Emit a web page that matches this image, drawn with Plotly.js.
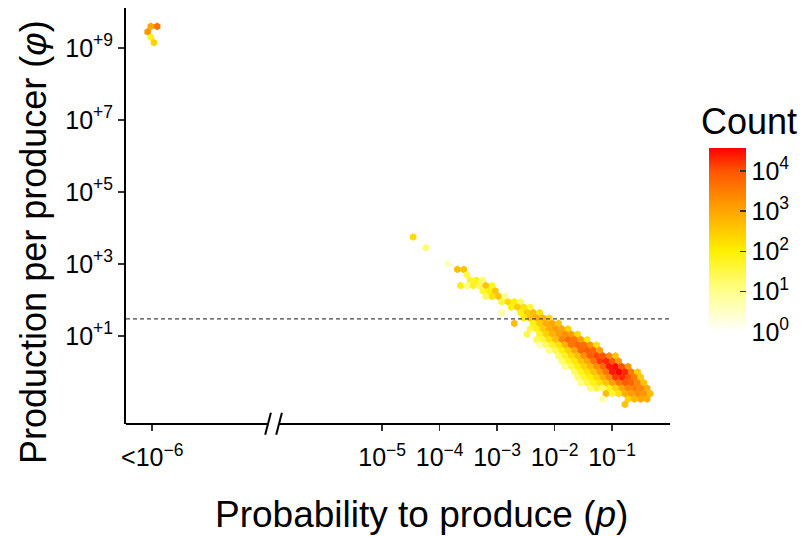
<!DOCTYPE html>
<html>
<head>
<meta charset="utf-8">
<script src="https://cdn.plot.ly/plotly-3.0.1.min.js"></script>
<style>
  html, body { margin: 0; padding: 0; background: #ffffff; }
  #chart { width: 802px; height: 537px; }
</style>
</head>
<body>
<div id="chart"></div>
<script>
// Hexbin cells: log10(p), log10(phi), log10(count)
// "<10^-6" producers are placed at log10(p) = -9 (the axis break category)
const logP = [
  -9.025, -8.915, -9.08, -9.025, -8.97,
  -4.46, -4.24, -3.855, -3.69, -3.58, -3.525,
  -3.47, -3.36, -3.25,
  -3.635, -3.525, -3.415, -3.305, -3.195, -3.085,
  -3.25, -3.14, -3.03,
  -3.195, -3.085, -2.975, -2.865,
  -2.92, -2.81, -2.70, -2.59,
  -2.755, -2.645, -2.535, -2.425,
  -2.92, -2.59, -2.48, -2.37, -2.26,
  -2.535, -2.425, -2.315, -2.205, -2.095,
  -2.70, -2.37, -2.26, -2.15, -2.04, -1.93,
  -2.425, -2.315, -2.205, -2.095, -1.985, -1.875, -1.765,
  -2.48, -2.26, -2.15, -2.04, -1.93, -1.82, -1.71, -1.60,
  -2.315, -2.205, -2.095, -1.985, -1.875, -1.765, -1.655, -1.545, -1.435,
  -2.26, -2.15, -2.04, -1.93, -1.82, -1.71, -1.60, -1.49, -1.38, -1.27,
  -2.095, -1.985, -1.875, -1.765, -1.655, -1.545, -1.435, -1.325, -1.215,
  -1.93, -1.82, -1.71, -1.60, -1.49, -1.38, -1.27, -1.16, -1.05, -0.94,
  -1.875, -1.765, -1.655, -1.545, -1.435, -1.325, -1.215, -1.105, -0.995, -0.885,
  -1.82, -1.71, -1.60, -1.49, -1.38, -1.27, -1.16, -1.05, -0.94, -0.83, -0.72,
  -1.655, -1.545, -1.435, -1.325, -1.215, -1.105, -0.995, -0.885, -0.775, -0.665, -0.555,
  -1.60, -1.49, -1.38, -1.27, -1.16, -1.05, -0.94, -0.83, -0.72, -0.61, -0.50,
  -1.545, -1.435, -1.325, -1.215, -1.105, -0.995, -0.885, -0.775, -0.665, -0.555, -0.445,
  -1.38, -1.27, -1.16, -1.05, -0.94, -0.83, -0.72, -0.61, -0.50, -0.39,
  -1.105, -0.995, -0.885, -0.775, -0.665, -0.555, -0.445, -0.335,
  -1.16, -0.72, -0.61, -0.50, -0.39,
  -0.775
];
const logPhi = [
  9.60, 9.60, 9.45, 9.30, 9.15,
  3.75, 3.45, 3.00, 2.85, 2.85, 2.70,
  2.55, 2.55, 2.55,
  2.40, 2.40, 2.40, 2.40, 2.40, 2.40,
  2.25, 2.25, 2.25,
  2.10, 2.10, 2.10, 2.10,
  1.95, 1.95, 1.95, 1.95,
  1.80, 1.80, 1.80, 1.80,
  1.65, 1.65, 1.65, 1.65, 1.65,
  1.50, 1.50, 1.50, 1.50, 1.50,
  1.35, 1.35, 1.35, 1.35, 1.35, 1.35,
  1.20, 1.20, 1.20, 1.20, 1.20, 1.20, 1.20,
  1.05, 1.05, 1.05, 1.05, 1.05, 1.05, 1.05, 1.05,
  0.90, 0.90, 0.90, 0.90, 0.90, 0.90, 0.90, 0.90, 0.90,
  0.75, 0.75, 0.75, 0.75, 0.75, 0.75, 0.75, 0.75, 0.75, 0.75,
  0.60, 0.60, 0.60, 0.60, 0.60, 0.60, 0.60, 0.60, 0.60,
  0.45, 0.45, 0.45, 0.45, 0.45, 0.45, 0.45, 0.45, 0.45, 0.45,
  0.30, 0.30, 0.30, 0.30, 0.30, 0.30, 0.30, 0.30, 0.30, 0.30,
  0.15, 0.15, 0.15, 0.15, 0.15, 0.15, 0.15, 0.15, 0.15, 0.15, 0.15,
  0.00, 0.00, 0.00, 0.00, 0.00, 0.00, 0.00, 0.00, 0.00, 0.00, 0.00,
  -0.15, -0.15, -0.15, -0.15, -0.15, -0.15, -0.15, -0.15, -0.15, -0.15, -0.15,
  -0.30, -0.30, -0.30, -0.30, -0.30, -0.30, -0.30, -0.30, -0.30, -0.30, -0.30,
  -0.45, -0.45, -0.45, -0.45, -0.45, -0.45, -0.45, -0.45, -0.45, -0.45,
  -0.60, -0.60, -0.60, -0.60, -0.60, -0.60, -0.60, -0.60,
  -0.75, -0.75, -0.75, -0.75, -0.75,
  -0.90
];
const logCount = [
  3.0, 3.6, 3.2, 1.8, 2.4,
  2.3, 1.2, 0.6, 2.7, 2.6, 1.5,
  1.7, 1.8, 1.2,
  2.0, 1.0, 1.8, 1.5, 2.6, 1.7,
  1.6, 2.0, 2.6,
  1.4, 2.2, 2.6, 1.0,
  1.6, 2.3, 2.0, 1.3,
  2.0, 2.5, 2.2, 1.6,
  0.8, 1.9, 2.5, 2.7, 2.2,
  2.0, 2.6, 2.9, 2.8, 2.3,
  2.7, 1.9, 2.5, 2.9, 3.0, 2.6,
  1.5, 1.9, 2.5, 2.9, 3.1, 3.0, 2.4,
  1.5, 1.8, 2.4, 2.8, 3.1, 3.3, 3.1, 2.3,
  1.4, 1.6, 2.2, 2.7, 3.4, 3.7, 3.6, 3.1, 2.1,
  0.7, 1.3, 1.8, 2.2, 2.8, 3.6, 3.8, 3.7, 3.2, 2.2,
  1.0, 1.5, 2.0, 2.5, 3.0, 3.8, 3.9, 3.8, 3.1,
  1.3, 1.8, 2.3, 2.7, 3.3, 3.9, 4.1, 4.0, 3.4, 2.6,
  1.2, 1.7, 2.1, 2.6, 3.0, 3.6, 4.2, 4.3, 3.9, 3.2,
  1.0, 1.5, 2.0, 2.4, 2.8, 3.3, 3.8, 4.4, 4.5, 4.0, 3.2,
  1.3, 1.8, 2.2, 2.6, 3.1, 3.6, 4.4, 4.57, 4.3, 3.5, 2.5,
  1.2, 1.7, 2.0, 2.4, 2.9, 3.4, 4.2, 4.3, 4.0, 3.5, 2.5,
  1.0, 1.5, 1.9, 2.2, 2.6, 3.1, 3.6, 3.9, 3.8, 3.4, 2.6,
  1.2, 1.6, 1.3, 1.8, 2.4, 3.0, 3.4, 3.5, 3.4, 2.9,
  2.7, 1.6, 2.2, 2.9, 3.1, 3.3, 3.2, 2.7,
  0.8, 2.4, 2.8, 3.0, 2.9,
  2.6
];

const xTickVals = [-9, -5, -4, -3, -2, -1];
const xTickText = ['&lt;10<sup>\u22126</sup>', '10<sup>\u22125</sup>', '10<sup>\u22124</sup>',
                   '10<sup>\u22123</sup>', '10<sup>\u22122</sup>', '10<sup>\u22121</sup>'];
const yTickVals = [1, 3, 5, 7, 9];
const yTickText = ['10<sup>+1</sup>', '10<sup>+3</sup>', '10<sup>+5</sup>', '10<sup>+7</sup>', '10<sup>+9</sup>'];
const cTickVals = [0, 1, 2, 3, 4];
const cTickText = ['10<sup>0</sup>', '10<sup>1</sup>', '10<sup>2</sup>', '10<sup>3</sup>', '10<sup>4</sup>'];
const thresholdLogPhi = 1.477;

const FONT = 'Liberation Sans, Arial, sans-serif';
const xMin = -9.457, xMax = 0.009;
const breakLeft = -6.986, breakRight = -6.795;

const trace = {
  type: 'scatter',
  mode: 'markers',
  x: logP,
  y: logPhi,
  hoverinfo: 'skip',
  marker: {
    symbol: 'hexagon',
    size: 7.6,
    line: { width: 0 },
    color: logCount,
    cmin: 0,
    cmax: 4.57,
    colorscale: [
      [0.00, '#FFFFFF'],
      [0.22, '#FFFF8C'],
      [0.44, '#FFF000'],
      [0.66, '#FFA500'],
      [0.875, '#FF5500'],
      [1.00, '#FF0000']
    ],
    showscale: true,
    colorbar: {
      thickness: 37, thicknessmode: 'pixels',
      len: 184, lenmode: 'pixels',
      x: 1.0717, xanchor: 'left', xpad: 0,
      y: 0.2212, yanchor: 'bottom', ypad: 0,
      outlinewidth: 0,
      tickmode: 'array', tickvals: cTickVals, ticktext: cTickText,
      ticks: 'inside', ticklen: 6, tickwidth: 1.5, tickcolor: '#333333',
      tickfont: { family: FONT, size: 25, color: '#000000' }
    }
  }
};

const slash = (x0, x1) => ({
  type: 'line', xref: 'x', yref: 'paper',
  x0: x0, x1: x1, y0: -0.026, y1: 0.027,
  line: { color: '#000000', width: 2 }
});

const layout = {
  width: 802, height: 537,
  margin: { l: 126, r: 132, t: 8, b: 113, pad: 0, autoexpand: false },
  paper_bgcolor: '#ffffff', plot_bgcolor: '#ffffff',
  showlegend: false,
  font: { family: FONT, color: '#000000' },
  xaxis: {
    range: [xMin, xMax], automargin: false,
    showgrid: false, zeroline: false, showline: false,
    tickmode: 'array', tickvals: xTickVals, ticktext: xTickText,
    ticks: 'outside', ticklen: 6, tickwidth: 1.6, tickcolor: '#333333',
    ticklabelstandoff: 5,
    tickfont: { family: FONT, size: 25, color: '#000000' }
  },
  yaxis: {
    range: [-1.444, 10.111], automargin: false,
    showgrid: false, zeroline: false,
    showline: true, linecolor: '#000000', linewidth: 2,
    tickmode: 'array', tickvals: yTickVals, ticktext: yTickText,
    ticks: 'outside', ticklen: 6, tickwidth: 1.6, tickcolor: '#333333',
    tickfont: { family: FONT, size: 25, color: '#000000' }
  },
  shapes: [
    { type: 'line', xref: 'paper', yref: 'y', x0: 0, x1: 1, y0: thresholdLogPhi, y1: thresholdLogPhi,
      line: { color: '#444444', width: 1.2, dash: '4px,3px' } },
    { type: 'line', xref: 'x', yref: 'paper', x0: xMin, x1: breakLeft, y0: 0, y1: 0,
      line: { color: '#000000', width: 2 } },
    { type: 'line', xref: 'x', yref: 'paper', x0: breakRight, x1: xMax, y0: 0, y1: 0,
      line: { color: '#000000', width: 2 } },
    slash(-7.035, -6.936),
    slash(-6.843, -6.744)
  ],
  annotations: [
    { xref: 'paper', yref: 'paper', x: 0.544, y: -0.218, xanchor: 'center', yanchor: 'middle',
      showarrow: false, text: 'Probability to produce (<i>p</i>)',
      font: { family: FONT, size: 37, color: '#000000' } },
    { xref: 'paper', yref: 'paper', x: -0.171, y: 0.4375, xanchor: 'center', yanchor: 'middle',
      showarrow: false, textangle: -90, text: 'Production per producer (<i>\u03C6</i>)',
      font: { family: FONT, size: 36, color: '#000000' } },
    { xref: 'paper', yref: 'paper', x: 1.0533, y: 0.728, xanchor: 'left', yanchor: 'middle',
      showarrow: false, text: 'Count',
      font: { family: FONT, size: 36, color: '#000000' } }
  ]
};

Plotly.newPlot('chart', [trace], layout, { staticPlot: true, displayModeBar: false });
</script>
</body>
</html>
